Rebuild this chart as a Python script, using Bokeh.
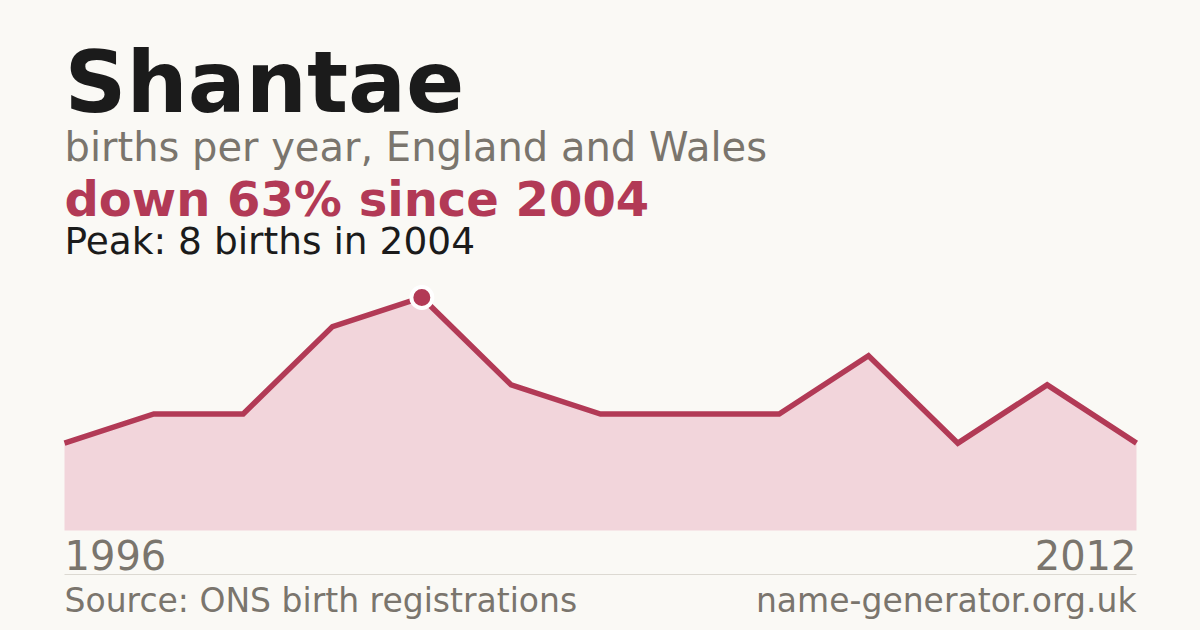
import math
from bokeh.plotting import figure
from bokeh.models import Label, Range1d, GlobalInlineStyleSheet
from bokeh.embed import file_html
from bokeh.resources import INLINE

# ---- data ----
years = [1996, 2001, 2002, 2003, 2004, 2005, 2006, 2007, 2008, 2009, 2010, 2011, 2012]
births = [3, 4, 4, 7, 8, 5, 4, 4, 4, 6, 3, 5, 3]
name = "Shantae"
subtitle = "births per year, England and Wales"
source = "Source: ONS birth registrations"
site = "name-generator.org.uk"

peak_val = max(births)
peak_i = births.index(peak_val)
peak_year = years[peak_i]
change = math.floor(abs((births[-1] - peak_val) / peak_val * 100) + 0.5)
idx = list(range(len(years)))

BG = "#faf9f5"
CRIMSON = "#b23a56"
PINK = "#f2d5db"
GREY = "#7a756d"
DARK = "#1b1b1b"
FONT = "DejaVu Sans"

W, H = 1192, 622
p = figure(width=W, height=H, output_backend="svg", toolbar_location=None,
           min_border=0, outline_line_color=None, background_fill_color=BG,
           border_fill_color=BG)
p.xaxis.visible = False
p.yaxis.visible = False
p.grid.visible = False

LEFT, RIGHT, BASE, PEAK_Y = 64, 1136, 530, 297
step = (RIGHT - LEFT) / (len(years) - 1)
p.x_range = Range1d(-LEFT / step, (W - LEFT) / step)
ypx = (BASE - PEAK_Y) / peak_val
base_from_bottom = H - BASE
p.y_range = Range1d(-base_from_bottom / ypx, (H - base_from_bottom) / ypx)

p.stylesheets = [GlobalInlineStyleSheet(css="html, body { background: %s; }" % BG)]

p.varea(x=idx, y1=[0] * len(idx), y2=births, fill_color=PINK)
p.line(idx, births, line_color=CRIMSON, line_width=5.5, line_join="miter")
p.scatter([peak_i], [peak_val], size=21, fill_color=CRIMSON,
          line_color="white", line_width=4)

rule_y = -(574 - BASE) / ypx
p.segment(x0=[idx[0]], x1=[idx[-1]], y0=[rule_y], y1=[rule_y],
          line_color="#dcd9d2", line_width=1)

def lab(text, x, baseline_y, size, color, bold=False, align="left", x_units="screen"):
    y = H - baseline_y + 0.35 * size
    p.add_layout(Label(x=x, y=y, x_units=x_units, y_units="screen", text=text,
                       text_font=FONT, text_font_size=f"{size}px",
                       text_font_style="bold" if bold else "normal",
                       text_color=color, text_align=align,
                       text_baseline="alphabetic"))

lab(name, LEFT, 112, 86, DARK, bold=True)
lab(subtitle, LEFT, 160, 40, GREY)
lab(f"down {change}% since {peak_year}", LEFT, 215, 48, CRIMSON, bold=True)
lab(f"Peak: {peak_val} births in {peak_year}", LEFT, 254, 37.5, DARK)
lab(str(years[0]), idx[0], 568, 40, GREY, x_units="data")
lab(str(years[-1]), idx[-1], 568, 40, GREY, align="right", x_units="data")
lab(source, LEFT, 612, 33, GREY)
lab(site, RIGHT, 612, 33, GREY, align="right")

open("out.html", "w").write(file_html(p, INLINE))
